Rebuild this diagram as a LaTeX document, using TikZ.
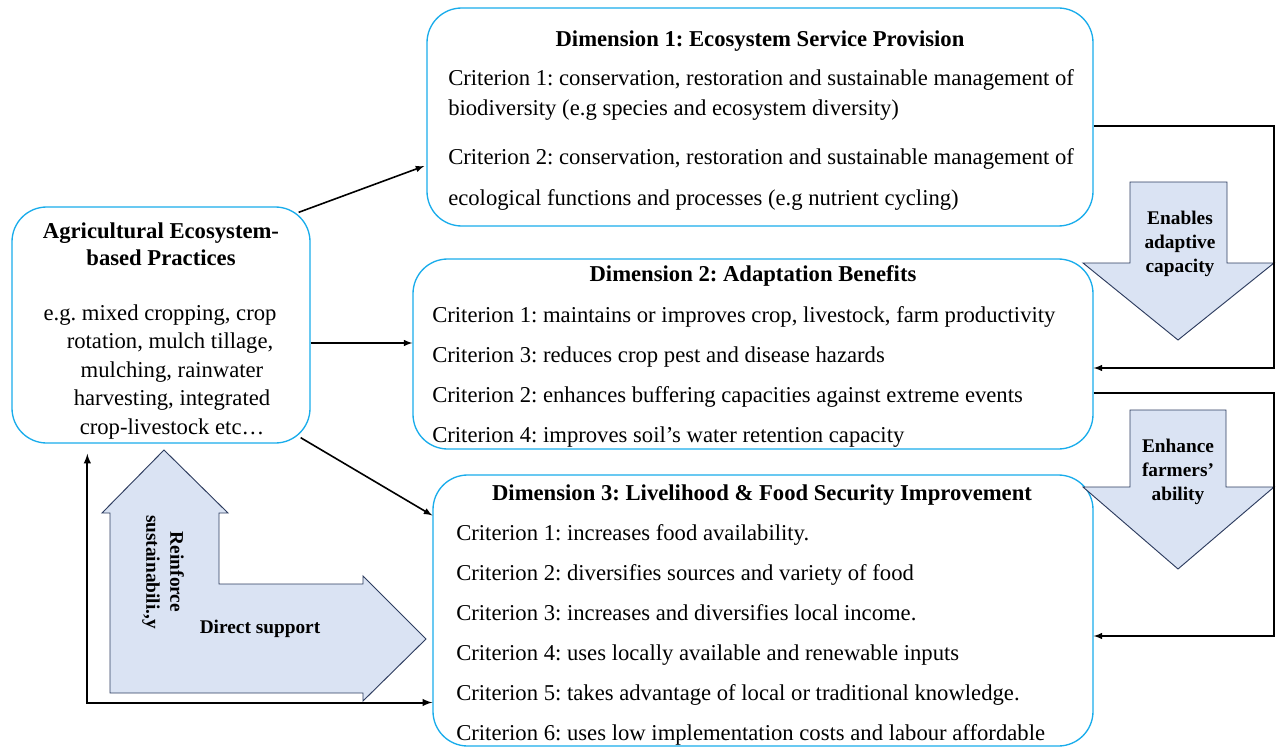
\documentclass[tikz,border=0pt]{standalone}
\usepackage{fontspec}
\setmainfont{Liberation Serif}
\usepackage{tikz}
\usetikzlibrary{calc}
\frenchspacing

\definecolor{boxblue}{RGB}{25,172,235}
\definecolor{arrowfill}{RGB}{218,227,243}
\definecolor{arrowedge}{RGB}{45,60,95}

\begin{document}
\begin{tikzpicture}[x=0.75pt,y=-0.75pt,
  dimbox/.style={draw=boxblue,line width=1pt,rounded corners=26pt,inner sep=0pt},
  crit/.style={anchor=base west,inner sep=0pt,font=\fontsize{17}{20}\selectfont},
  title/.style={anchor=base,inner sep=0pt,font=\bfseries\fontsize{17}{20}\selectfont},
  conn/.style={->,>=latex,line width=1.2pt},
  barrow/.style={fill=arrowfill,draw=arrowedge,line width=0.7pt,line join=miter},
  barrowtxt/.style={align=center,inner sep=0pt,font=\bfseries\fontsize{14.5}{18}\selectfont}]
\useasboundingbox (0,0) rectangle (1282,749);

% the four boxes
\node [dimbox,minimum width=223.5pt,minimum height=177pt] (agri) at (161,325) {};
\node [dimbox,minimum width=499.5pt,minimum height=163.5pt] (d1) at (760,117) {};
\node [dimbox,minimum width=510pt,minimum height=142.5pt] (d2) at (753,354) {};
\node [dimbox,minimum width=495pt,minimum height=203.25pt] (d3) at (763,610.5) {};

% practices
\node [title] (agrit1) at (161,238) {Agricultural Ecosystem-};
\node [title] (agrit2) at (161,265) {based Practices};
\foreach \x/\txt [count=\i] in {160/{e.g. mixed cropping, crop},170/{rotation, mulch tillage,},
  172/{mulching, rainwater},172/{harvesting, integrated},172/{crop-livestock etc…}}
  \node [anchor=base,inner sep=0pt,font=\fontsize{17}{20}\selectfont] (agrib\i) at (\x,291.5+28.5*\i) {\txt};

% dimension 1
\node [title] (d1t) at (760,47) {Dimension 1: Ecosystem Service Provision};
\node [crit] (d1c1) at (448,85) {Criterion 1: conservation, restoration and sustainable management of};
\node [crit] (d1c1b) at (448,115) {biodiversity (e.g species and ecosystem diversity)};
\node [crit] (d1c2) at (448,164) {Criterion 2: conservation, restoration and sustainable management of};
\node [crit] (d1c2b) at (448,205) {ecological functions and processes (e.g nutrient cycling)};

% dimension 2
\node [title] (d2t) at (753,281) {Dimension 2: Adaptation Benefits};
\foreach \txt [count=\i] in {{Criterion 1: maintains or improves crop, livestock, farm productivity},
  {Criterion 3: reduces crop pest and disease hazards},
  {Criterion 2: enhances buffering capacities against extreme events},
  {Criterion 4: improves soil’s water retention capacity}}
  \node [crit] (d2c\i) at (432,282+40*\i) {\txt};

% dimension 3
\node [title] (d3t) at (762,500) {Dimension 3: Livelihood \& Food Security Improvement};
\foreach \txt [count=\i] in {{Criterion 1: increases food availability.},
  {Criterion 2: diversifies sources and variety of food},
  {Criterion 3: increases and diversifies local income.},
  {Criterion 4: uses locally available and renewable inputs},
  {Criterion 5: takes advantage of local or traditional knowledge.},
  {Criterion 6: uses low implementation costs and labour affordable}}
  \node [crit] (d3c\i) at (456,500+40*\i) {\txt};

% block arrows
\draw [barrow] (164,450) -- (228,513) -- (219,513) -- (219,584) -- (363,584) -- (363,576)
  -- (426,639) -- (363,701) -- (363,693) -- (110,693) -- (110,513) -- (102,513) -- cycle;
\draw [barrow] (1130,182) -- (1227,182) -- (1227,263) -- (1274,263) -- (1178,340)
  -- (1083,263) -- (1130,263) -- cycle;
\draw [barrow] (1130,410) -- (1226,410) -- (1226,487) -- (1274,487) -- (1178,569)
  -- (1083,487) -- (1130,487) -- cycle;
\node [barrowtxt,rotate=-90] (reinf) at (163,572) {Reinforce\\sustainabili.,y};
\node [barrowtxt] (direct) at (260,629) {Direct support};
\node [barrowtxt] (adapt) at (1180,244) {Enables\\adaptive\\capacity};
\node [barrowtxt] (enhance) at (1178,472) {Enhance\\farmers’\\ability};

% connectors
\draw [conn] ($(agri.north east)+(-12,6)$) -- ($(d1.west)+(-2,49)$);
\draw [conn] ($(agri.east)+(0,18)$) -- ($(d2.west)+(0,-11)$);
\draw [conn] ($(agri.south east)+(-10,-6)$) -- ($(d3.west)+(0,-95)$);
\draw [conn,<->,line width=1.5pt] ($(agri.south west)+(76,10)$) |- ($(d3.west)+(0,92)$);

\coordinate (t1) at (1274,126);
\coordinate (t2) at (1274,368);
\coordinate (t3) at (1274,393);
\coordinate (t4) at (1274,636);
\draw [conn] (d1.east |- t1) -- (t1) -- (t2) -- (d2.east |- t2);
\draw [conn] (d2.east |- t3) -- (t3) -- (t4) -- (d3.east |- t4);
\end{tikzpicture}
\end{document}
